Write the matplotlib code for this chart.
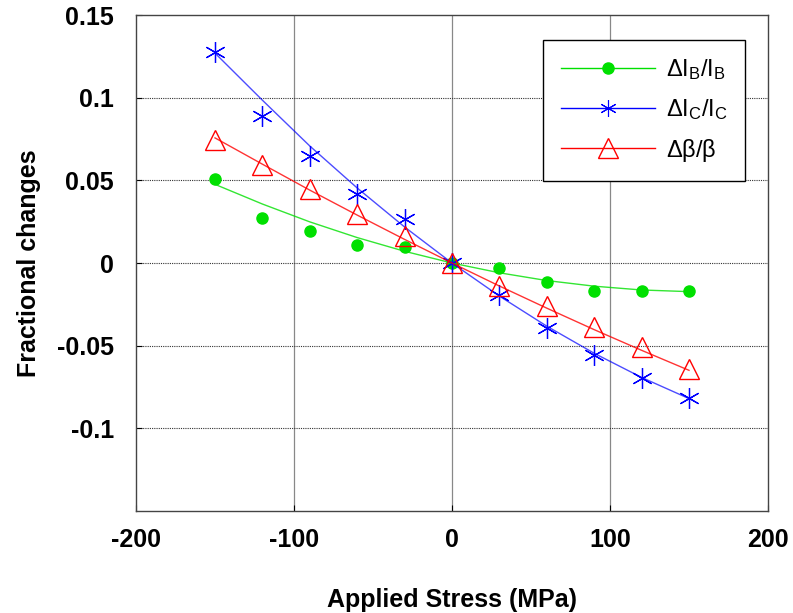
"""Fractional changes of IB, IC and beta vs applied stress."""

import matplotlib
matplotlib.use("Agg")
import matplotlib.pyplot as plt

plt.rcParams["font.family"] = ["Liberation Sans", "DejaVu Sans"]
plt.rcParams["mathtext.fontset"] = "custom"
plt.rcParams["mathtext.rm"] = "Liberation Sans"
plt.rcParams["mathtext.it"] = "Liberation Sans"
plt.rcParams["axes.unicode_minus"] = False

stress = [-150, -120, -90, -60, -30, 0, 30, 60, 90, 120, 150]

# measured points
dIB = [0.0506, 0.0275, 0.0195, 0.0112, 0.0094, 0.0, -0.0032, -0.0113, -0.0167, -0.0169, -0.0170]
dIC = [0.1279, 0.0887, 0.0646, 0.0416, 0.0265, 0.0, -0.0193, -0.0394, -0.0558, -0.0695, -0.0819]
dbeta = [0.0747, 0.0596, 0.0446, 0.0295, 0.0164, 0.0, -0.0137, -0.0257, -0.0388, -0.0508, -0.0639]

# fitted curves, read at the same stress values
fit_IB = [0.0476, 0.0357, 0.0249, 0.0154, 0.0071, 0.0, -0.0059, -0.0106, -0.0140, -0.0163, -0.0173]
fit_IC = [0.1270, 0.0985, 0.0708, 0.0454, 0.0218, 0.0, -0.0200, -0.0382, -0.0546, -0.0692, -0.0820]
fit_beta = [0.0757, 0.0598, 0.0441, 0.0290, 0.0143, 0.0, -0.0139, -0.0273, -0.0403, -0.0528, -0.0649]

labels = [r"$\Delta$I$_\mathregular{B}$/I$_\mathregular{B}$",
          r"$\Delta$I$_\mathregular{C}$/I$_\mathregular{C}$",
          r"$\Delta\beta/\beta$"]

fig = plt.figure(figsize=(7.93, 6.13), dpi=100)
ax = fig.add_axes([0.1715, 0.1664, 0.797, 0.809])

green, blue, red = "#00e000", "#0000ff", "#ff0000"

ax.plot(stress, fit_IB, color=green, lw=1.0, alpha=0.8)
ax.plot(stress, dIB, "o", color=green, ms=8, mec=green)
ax.plot(stress, fit_IC, color=blue, lw=1.0, alpha=0.7)
ax.plot(stress, dIC, ls="none", marker=(6, 2, 0), color=blue, ms=15, mew=0.9)
ax.plot(stress, fit_beta, color=red, lw=1.0, alpha=0.8)
ax.plot(stress, dbeta, "^", color=red, ms=15, mfc="none", mew=1.0)

# legend proxies: line with marker in the middle
h1, = ax.plot([], [], color=green, lw=1.0, marker="o", ms=8)
h2, = ax.plot([], [], color=blue, lw=1.0, marker=(6, 2, 0), ms=12, mew=0.8)
h3, = ax.plot([], [], color=red, lw=1.0, marker="^", ms=15, mfc="none")
leg = ax.legend([h1, h2, h3], labels, loc="upper right",
                bbox_to_anchor=(0.964, 0.95), fontsize=17, handlelength=4.0,
                handletextpad=0.45, labelspacing=0.62, borderpad=0.75,
                borderaxespad=0, fancybox=False, framealpha=1, edgecolor="black")
leg.get_frame().set_linewidth(1.0)

ax.set_xlim(-200, 200)
ax.set_ylim(-0.15, 0.15)
ax.set_xticks([-200, -100, 0, 100, 200])
ax.set_yticks([-0.1, -0.05, 0, 0.05, 0.1, 0.15])
ax.set_yticklabels(["-0.1", "-0.05", "0", "0.05", "0.1", "0.15"])

for xv in [-100, 0, 100]:
    ax.axvline(xv, color="#888888", lw=0.9, zorder=0)
for yv in [-0.1, -0.05, 0, 0.05, 0.1]:
    ax.axhline(yv, color="#333333", lw=0.8, ls=(0, (1, 1)), zorder=0)

ax.tick_params(direction="in", length=4, labelsize=18, pad=12)
ax.tick_params(axis="y", pad=16)
for lab in ax.get_xticklabels() + ax.get_yticklabels():
    lab.set_fontweight("bold")
for sp in ax.spines.values():
    sp.set_color("#444444")
    sp.set_linewidth(1.0)

ax.set_xlabel("Applied Stress (MPa)", fontsize=18, fontweight="bold", labelpad=26)
ax.set_ylabel("Fractional changes", fontsize=18, fontweight="bold", labelpad=11)

fig.savefig("out.png", dpi=100)
